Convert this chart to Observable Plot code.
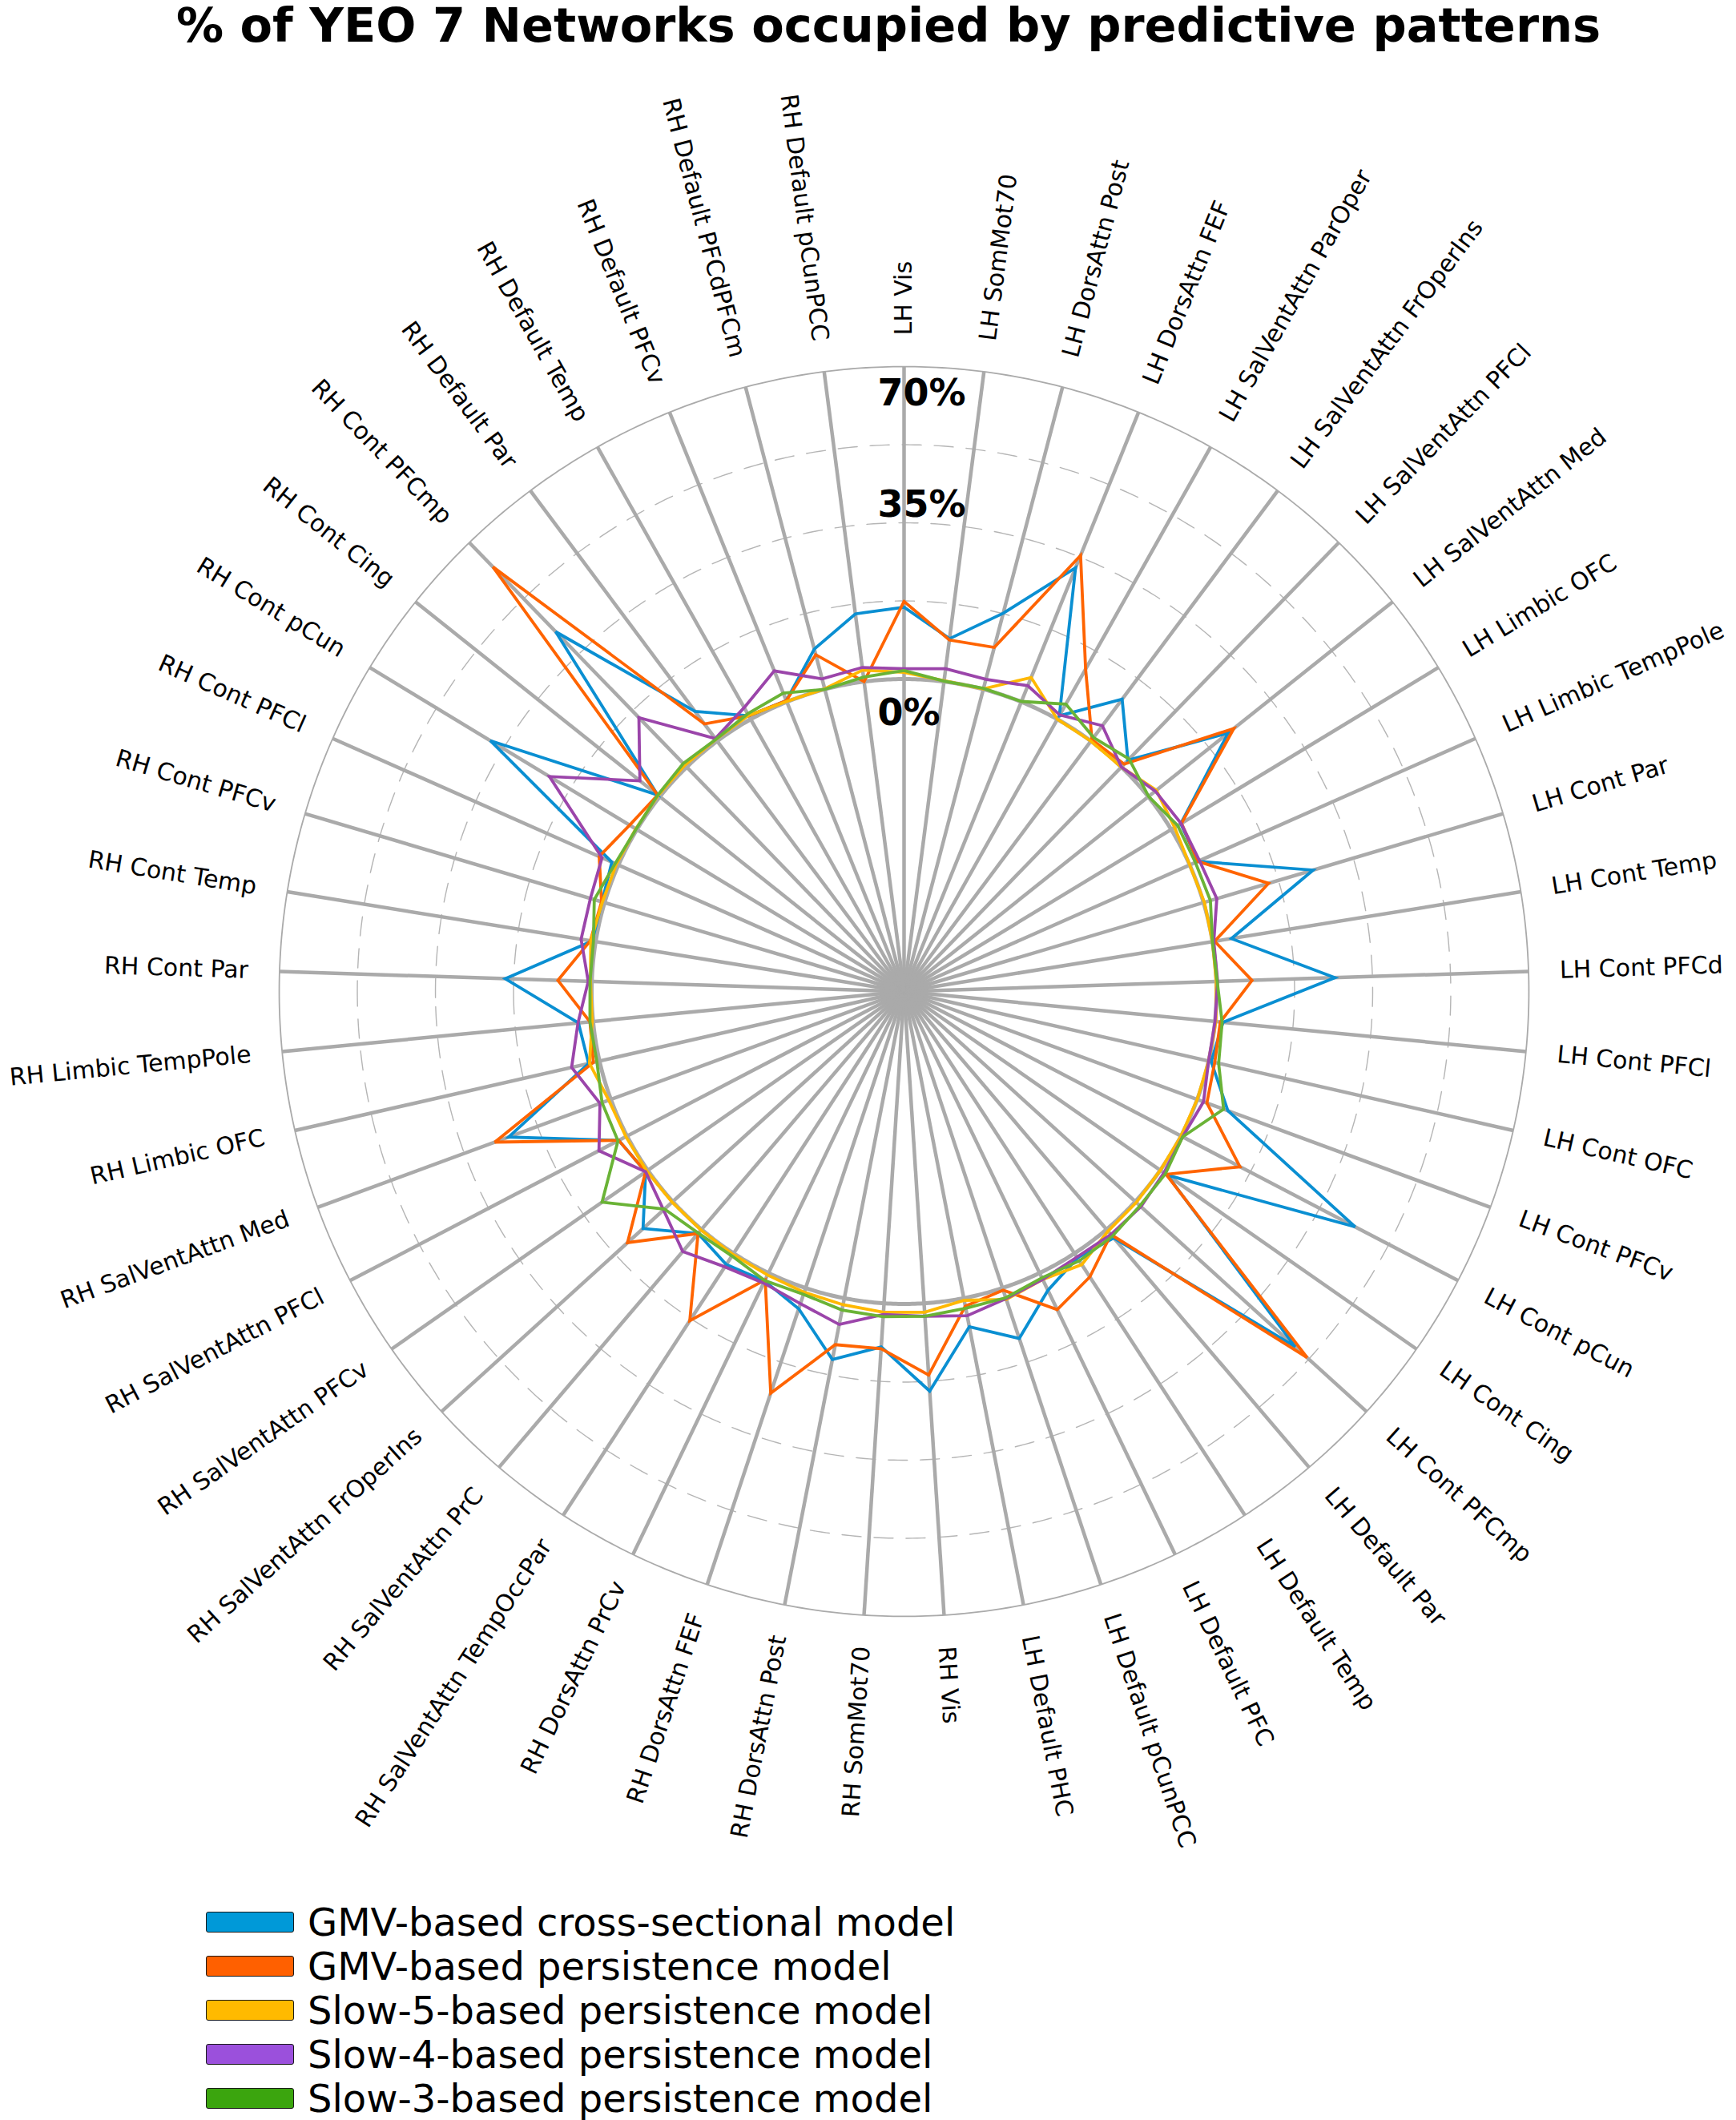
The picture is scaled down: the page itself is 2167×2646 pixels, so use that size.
<!DOCTYPE html>
<html>
<head>
<meta charset="utf-8">
<script src="https://cdn.jsdelivr.net/npm/d3@7"></script>
<script src="https://cdn.jsdelivr.net/npm/@observablehq/plot@0.6"></script>
<style>
html, body { margin: 0; padding: 0; background: #fff; }
body { width: 2167px; height: 2646px; position: relative; overflow: hidden; font-family: "DejaVu Sans", sans-serif; color: #000; }
#chart { position: absolute; left: 0; top: 0; }
#title { position: absolute; left: 0; top: 2px; width: 2218px; text-align: center; font-weight: bold; font-size: 59px; line-height: 59px; white-space: nowrap; }
#legend { position: absolute; left: 257px; top: 2372px; }
.row { display: flex; align-items: center; height: 54.8px; }
.sw { width: 108px; height: 24px; border: 1.5px solid #1a1a1a; border-radius: 3px; box-sizing: content-box; flex: none; }
.lab { margin-left: 17px; font-size: 48px; line-height: 48px; white-space: nowrap; }
</style>
</head>
<body>
<div id="chart"></div>
<div id="title"></div>
<div id="legend"></div>
<script>
// ---------------- data ----------------
const titleText = "% of YEO 7 Networks occupied by predictive patterns";

const regions = [
  "LH Vis", "LH SomMot70", "LH DorsAttn Post", "LH DorsAttn FEF", "LH SalVentAttn ParOper",
  "LH SalVentAttn FrOperIns", "LH SalVentAttn PFCl", "LH SalVentAttn Med", "LH Limbic OFC",
  "LH Limbic TempPole", "LH Cont Par", "LH Cont Temp", "LH Cont PFCd", "LH Cont PFCl",
  "LH Cont OFC", "LH Cont PFCv", "LH Cont pCun", "LH Cont Cing", "LH Cont PFCmp",
  "LH Default Par", "LH Default Temp", "LH Default PFC", "LH Default pCunPCC", "LH Default PHC",
  "RH Vis", "RH SomMot70", "RH DorsAttn Post", "RH DorsAttn FEF", "RH DorsAttn PrCv",
  "RH SalVentAttn TempOccPar", "RH SalVentAttn PrC", "RH SalVentAttn FrOperIns",
  "RH SalVentAttn PFCv", "RH SalVentAttn PFCl", "RH SalVentAttn Med", "RH Limbic OFC",
  "RH Limbic TempPole", "RH Cont Par", "RH Cont Temp", "RH Cont PFCv", "RH Cont PFCl",
  "RH Cont pCun", "RH Cont Cing", "RH Cont PFCmp", "RH Default Par", "RH Default Temp",
  "RH Default PFCv", "RH Default PFCdPFCm", "RH Default pCunPCC"
];

const seriesNames = [
  "GMV-based cross-sectional model",
  "GMV-based persistence model",
  "Slow-5-based persistence model",
  "Slow-4-based persistence model",
  "Slow-3-based persistence model"
];

const gmvCross = [16.1, 9.7, 17.6, 32.4, 0.9, 11.7, 2.1, 22.9, 2.5, 2.0, 25.6, 4.3, 26.6,
  1.8, 0.6, 7.3, 44.0, 1.9, 48.4, 2.5, 1.2, 4.3, 11.9, 6.5, 19.7,
  9.8, 14.0, 4.9, 2.0, 3.0, 1.2, 9.0, 0.6, 2.1, 24.4, 2.5, 3.3,
  19.4, 0.8, 0.6, 1.6, 38.4, 0.6, 42.2, 8.3, 0.9, 0.3, 9.3, 15.3];

const gmvPersist = [17.4, 9.4, 9.7, 35.4, 12.9, 0.4, 0.9, 24.5, 2.7, 2.0, 15.2, 0.5, 8.0,
  1.2, 1.4, 2.3, 14.9, 1.6, 52.0, 1.5, 6.3, 9.1, 0.5, 1.8, 16.1,
  10.2, 10.6, 24.8, 1.7, 18.0, 1.2, 13.7, 0.6, 2.1, 27.7, 1.4, 0.7,
  7.6, 1.2, 0.7, 4.7, 1.9, 0.6, 62.4, 4.8, 0.9, 0.3, 8.0, 0.0];

const slow5 = [1.5, 0.2, 0.1, 5.9, 0.0, 0.0, 0.0, 2.3, 0.9, 0.0, 0.2, 0.0, 0.0,
  0.2, 0.0, 0.0, 0.0, 0.0, 0.3, 0.5, 3.0, 1.6, 2.7, 0.5, 2.0,
  2.0, 1.5, 1.0, 0.5, 0.3, 0.2, 0.2, 0.3, 0.3, 0.5, 2.3, 0.2,
  0.3, 1.1, 0.5, 0.5, 0.3, 0.5, 0.6, 0.5, 1.0, 0.1, 0.1, 2.6];

const slow4 = [2.3, 2.9, 2.3, 3.9, 1.1, 4.3, 0.0, 2.0, 2.6, 2.4, 3.1, 0.3, 0.3,
  0.0, 0.0, 1.5, 0.4, 1.0, 1.7, 1.5, 1.0, 1.6, 2.5, 4.0, 2.9,
  2.5, 6.0, 3.7, 2.5, 3.6, 6.5, 2.8, 0.6, 7.1, 2.6, 6.4, 3.4,
  0.8, 3.3, 3.3, 4.0, 22.9, 5.7, 15.4, 0.7, 3.0, 7.5, 2.4, 3.2];

const slow3 = [1.9, 0.1, 0.2, 0.1, 3.9, 1.0, 2.5, 0.1, 1.7, 1.4, 1.6, 0.0, 0.2,
  1.6, 2.3, 6.3, 0.4, 1.4, 1.4, 2.0, 2.0, 1.2, 2.3, 2.3, 2.9,
  3.0, 2.7, 1.5, 1.9, 0.7, 1.1, 2.5, 12.5, 2.3, 2.1, 0.6, 0.7,
  0.4, 0.5, 2.4, 0.8, 0.2, 0.6, 1.1, 0.5, 1.4, 2.1, 0.0, 1.0];

const radialRange = [-70, 70];          // radial axis range (hole below 0)
const gridValues = [17.5, 35, 52.5];    // dashed grid circles
const tickValues = [0, 35, 70];         // radial tick labels
const labelRadiusValue = 77;            // category labels just outside the 70% ring
const frameRadiusValue = 116.5;         // radial value at the edge of the plotting frame

// ---------------- styles ----------------
const lineColors = ["#0a8fd2", "#ff6400", "#ffb800", "#9b45aa", "#6ab336"];
const legendColors = ["#0099d8", "#ff6000", "#ffba00", "#9b50dc", "#3ba50e"];
const tickNudge = {0: -7.7, 35: 4.0, 70: -6.0};

// ---------------- build ----------------
const seriesValues = [gmvCross, gmvPersist, slow5, slow4, slow3];
const N = regions.length;
const angle = i => i * 360 / N;                 // clockwise from top
const lon = i => 180 - angle(i);
const rdeg = v => (v - radialRange[0]) / (radialRange[1] - radialRange[0]); // degrees from the pole
const lat = v => 90 - rdeg(v);
const circle = v => d3.geoCircle().center([0, 90]).radius(rdeg(v)).precision(0.5)();

const points = seriesNames.flatMap((name, s) =>
  d3.range(N + 1).map(i => ({series: name, i, value: seriesValues[s][i % N]}))
);
const cats = regions.map((name, i) => ({name, i}));
const rightCats = cats.filter(d => angle(d.i) <= 180);
const leftCats = cats.filter(d => angle(d.i) > 180);

const chart = Plot.plot({
  width: 2167,
  height: 2370,
  marginLeft: 89,
  marginRight: 0,
  marginTop: 198,
  marginBottom: 94,
  style: {fontFamily: '"DejaVu Sans", sans-serif', background: "transparent", color: "#000"},
  projection: {
    type: "azimuthal-equidistant",
    rotate: [0, -90],
    domain: circle(frameRadiusValue)
  },
  color: {domain: seriesNames, range: lineColors},
  marks: [
    Plot.geo(gridValues, {geometry: circle, fill: "none", stroke: "#b5b5b5", strokeWidth: 1.4, strokeDasharray: "24,16"}),
    Plot.link(cats, {
      x1: d => lon(d.i), y1: 90,
      x2: d => lon(d.i), y2: lat(radialRange[1]),
      stroke: "#aaaaaa", strokeWidth: 4.5
    }),
    Plot.geo([radialRange[1]], {geometry: circle, fill: "none", stroke: "#aaaaaa", strokeWidth: 1.8}),
    Plot.geo([0], {geometry: circle, fill: "none", stroke: "#aaaaaa", strokeWidth: 5}),
    Plot.line(points, {
      x: d => lon(d.i),
      y: d => lat(d.value),
      z: "series",
      stroke: "series",
      strokeWidth: 3.8,
      strokeLinejoin: "miter",
      strokeMiterlimit: 3
    }),
    Plot.text(tickValues, {
      x: 180,
      y: d => lat(d + tickNudge[d]),
      text: d => `${d}%`,
      textAnchor: "start",
      dx: -33,
      fontSize: 46,
      fontWeight: "bold",
      fill: "#000"
    }),
    Plot.text(rightCats, {
      x: d => lon(d.i),
      y: lat(labelRadiusValue),
      text: "name",
      rotate: d => angle(d.i) - 90,
      textAnchor: "start",
      fontSize: 30,
      fill: "#000"
    }),
    Plot.text(leftCats, {
      x: d => lon(d.i),
      y: lat(labelRadiusValue),
      text: "name",
      rotate: d => angle(d.i) - 270,
      textAnchor: "end",
      fontSize: 30,
      fill: "#000"
    })
  ]
});
document.getElementById("chart").appendChild(chart);

document.getElementById("title").textContent = titleText;

const legend = document.getElementById("legend");
seriesNames.forEach((name, s) => {
  const row = document.createElement("div");
  row.className = "row";
  const sw = document.createElement("div");
  sw.className = "sw";
  sw.style.background = legendColors[s];
  const lab = document.createElement("div");
  lab.className = "lab";
  lab.textContent = name;
  row.appendChild(sw);
  row.appendChild(lab);
  legend.appendChild(row);
});
</script>
</body>
</html>
